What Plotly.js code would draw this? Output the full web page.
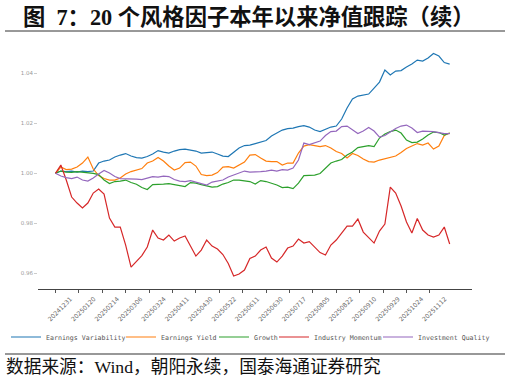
<!DOCTYPE html>
<html>
<head>
<meta charset="utf-8">
<script src="https://cdn.plot.ly/plotly-3.0.1.min.js"></script>
<style>
  html, body { margin: 0; padding: 0; background: #ffffff; }
  #chart { width: 510px; height: 382px; }
</style>
</head>
<body>
<div id="chart"></div>
<script>
// ---- Data ----
// one value every 3 trading days, starting 2024-12-31
const STEP_DAYS = 3;
const tickDates = ['20241231','20250120','20250214','20250306','20250324','20250411','20250430','20250522','20250611','20250630','20250717','20250805','20250822','20250910','20250929','20251024','20251112'];
const TICK_EVERY_DAYS = 13;

const seriesNames = ['Earnings Variability','Earnings Yield','Growth','Industry Momentum','Investment Quality'];

const earningsVariability = [
1.0000,1.0009,1.0007,1.0009,1.0005,1.0009,1.0007,1.0009,1.0041,1.0049,
1.0053,1.0065,1.0073,1.0079,1.0069,1.0063,1.0061,1.0067,1.0077,1.0091,
1.0085,1.0081,1.0089,1.0095,1.0097,1.0093,1.0089,1.0081,1.0083,1.0085,
1.0077,1.0069,1.0067,1.0085,1.0101,1.0111,1.0113,1.0119,1.0125,1.0131,
1.0149,1.0161,1.0173,1.0179,1.0181,1.0187,1.0191,1.0185,1.0173,1.0167,
1.0177,1.0185,1.0189,1.0217,1.0261,1.0297,1.0309,1.0313,1.0317,1.0341,
1.0365,1.0413,1.0393,1.0409,1.0411,1.0425,1.0437,1.0453,1.0449,1.0461,
1.0479,1.0469,1.0443,1.0437];

const earningsYield = [
1.0000,1.0025,1.0015,1.0017,1.0025,1.0041,1.0065,1.0017,0.9991,0.9979,
0.9973,0.9973,0.9981,0.9997,1.0007,1.0013,1.0019,1.0041,1.0049,1.0063,
1.0049,1.0029,1.0013,1.0021,1.0043,1.0045,1.0029,0.9995,0.9991,0.9993,
1.0003,1.0025,1.0027,1.0021,1.0033,1.0045,1.0073,1.0075,1.0061,1.0049,
1.0047,1.0047,1.0033,1.0041,1.0041,1.0081,1.0109,1.0115,1.0111,1.0107,
1.0111,1.0101,1.0087,1.0079,1.0061,1.0079,1.0071,1.0057,1.0047,1.0045,
1.0053,1.0059,1.0065,1.0069,1.0083,1.0099,1.0109,1.0119,1.0113,1.0121,
1.0097,1.0109,1.0151,1.0161];

const growth = [
1.0000,1.0009,1.0005,1.0004,1.0007,1.0005,1.0003,1.0000,0.9995,0.9973,
0.9959,0.9967,0.9969,0.9973,0.9963,0.9956,0.9943,0.9935,0.9955,0.9955,
0.9957,0.9959,0.9955,0.9953,0.9947,0.9963,0.9961,0.9955,0.9951,0.9945,
0.9947,0.9957,0.9963,0.9973,0.9973,0.9969,0.9967,0.9957,0.9971,0.9967,
0.9961,0.9953,0.9943,0.9945,0.9939,0.9961,0.9991,0.9993,0.9993,0.9999,
1.0021,1.0041,1.0049,1.0055,1.0073,1.0085,1.0103,1.0107,1.0111,1.0107,
1.0141,1.0157,1.0167,1.0173,1.0161,1.0133,1.0123,1.0125,1.0137,1.0153,
1.0165,1.0163,1.0153,1.0161];

const industryMomentum = [
1.0000,1.0033,0.9973,0.9905,0.9881,0.9861,0.9881,0.9921,0.9937,0.9917,
0.9821,0.9785,0.9785,0.9713,0.9625,0.9649,0.9671,0.9705,0.9773,0.9741,
0.9733,0.9753,0.9729,0.9741,0.9749,0.9709,0.9669,0.9693,0.9733,0.9709,
0.9697,0.9675,0.9639,0.9589,0.9597,0.9613,0.9659,0.9669,0.9693,0.9705,
0.9661,0.9645,0.9669,0.9701,0.9709,0.9737,0.9721,0.9727,0.9707,0.9683,
0.9673,0.9713,0.9733,0.9761,0.9789,0.9789,0.9817,0.9765,0.9741,0.9721,
0.9769,0.9797,0.9945,0.9921,0.9869,0.9805,0.9761,0.9819,0.9773,0.9753,
0.9745,0.9753,0.9785,0.9717];

const investmentQuality = [
1.0000,0.9989,0.9983,0.9979,0.9985,0.9973,0.9969,0.9981,0.9997,1.0011,
1.0001,0.9987,0.9979,0.9979,0.9977,0.9977,0.9975,0.9981,0.9987,0.9985,
0.9989,0.9987,0.9975,0.9969,0.9967,0.9971,0.9965,0.9959,0.9953,0.9965,
0.9969,0.9973,0.9985,0.9993,1.0003,1.0009,1.0005,1.0005,1.0007,1.0009,
1.0013,1.0009,1.0015,1.0013,1.0021,1.0053,1.0121,1.0115,1.0121,1.0129,
1.0151,1.0167,1.0169,1.0187,1.0189,1.0175,1.0159,1.0169,1.0183,1.0169,
1.0145,1.0151,1.0165,1.0179,1.0189,1.0193,1.0181,1.0163,1.0169,1.0169,
1.0167,1.0163,1.0159,1.0159];

const yTicks = [0.96, 0.98, 1.00, 1.02, 1.04];

// ---- Build traces ----
const seriesValues = [earningsVariability, earningsYield, growth, industryMomentum, investmentQuality];
const colors = ['#1f77b4','#ff7f0e','#2ca02c','#d62728','#9467bd'];
const legendIds = ['legend','legend2','legend3','legend4','legend5'];
// left pixel where each legend entry's text starts in the reference
const legendTextStartPx = [45, 160, 253, 313, 417];

const traces = seriesValues.map((vals, s) => ({
  type: 'scatter',
  mode: 'lines',
  name: seriesNames[s],
  legend: legendIds[s],
  x: vals.map((_, i) => i * STEP_DAYS),
  y: vals,
  line: { color: colors[s], width: 1.2 },
  hoverinfo: 'skip'
}));

const PW = 434, PH = 247, ML = 38, MT = 42;
const px2x = p => (p - ML) / PW;
const py2y = p => (MT + PH - p) / PH;

const serif = '"Liberation Serif", "Noto Sans CJK SC", serif';

const layout = {
  width: 510, height: 382,
  margin: { l: ML, r: 510 - ML - PW, t: MT, b: 382 - MT - PH },
  paper_bgcolor: '#ffffff', plot_bgcolor: '#ffffff',
  showlegend: true,
  xaxis: {
    range: [-9.7, 231.4],
    tickvals: tickDates.map((_, i) => i * TICK_EVERY_DAYS),
    ticktext: tickDates,
    tickangle: -45,
    ticklabelshift: 15,
    tickfont: { family: 'DejaVu Sans', size: 6.2, color: '#666666' },
    ticks: 'outside', ticklen: 3, tickcolor: '#555555', tickwidth: 1,
    showline: true, linecolor: '#444444', linewidth: 1,
    showgrid: false, zeroline: false, fixedrange: true
  },
  yaxis: {
    range: [0.95372, 1.05252],
    tickvals: yTicks,
    tickformat: '.2f',
    tickfont: { family: 'DejaVu Sans', size: 5.5, color: '#9a9a9a' },
    ticks: 'outside', ticklen: 3, tickcolor: '#cccccc', tickwidth: 1,
    showline: false, showgrid: false, zeroline: false, fixedrange: true
  },
  shapes: [
    { type: 'line', xref: 'paper', yref: 'paper', x0: px2x(5), x1: px2x(505), y0: py2y(31), y1: py2y(31),
      line: { color: '#333333', width: 1 } },
    { type: 'line', xref: 'paper', yref: 'paper', x0: px2x(5), x1: px2x(505), y0: py2y(354), y1: py2y(354),
      line: { color: '#333333', width: 1.2 } }
  ],
  annotations: [
    { text: '<b>图  7：20 个风格因子本年以来净值跟踪（续）</b>', showarrow: false,
      xref: 'paper', yref: 'paper', x: px2x(21), xanchor: 'left', y: py2y(17), yanchor: 'middle',
      font: { family: serif, size: 22.3, color: '#111111' } },
    { text: '数据来源：Wind，朝阳永续，国泰海通证券研究', showarrow: false,
      xref: 'paper', yref: 'paper', x: px2x(4), xanchor: 'left', y: py2y(367), yanchor: 'middle',
      font: { family: serif, size: 17.7, color: '#111111' } }
  ]
};

legendIds.forEach((id, s) => {
  layout[id] = {
    orientation: 'h',
    xref: 'container', x: (legendTextStartPx[s] - 39) / 510, xanchor: 'left',
    yref: 'container', y: 1 - 337 / 382, yanchor: 'middle',
    font: { family: '"DejaVu Sans Mono", monospace', size: 6.6, color: '#555555' },
    itemwidth: 30,
    bgcolor: 'rgba(0,0,0,0)', borderwidth: 0
  };
});

Plotly.newPlot('chart', traces, layout, { displayModeBar: false, staticPlot: true });
</script>
</body>
</html>
